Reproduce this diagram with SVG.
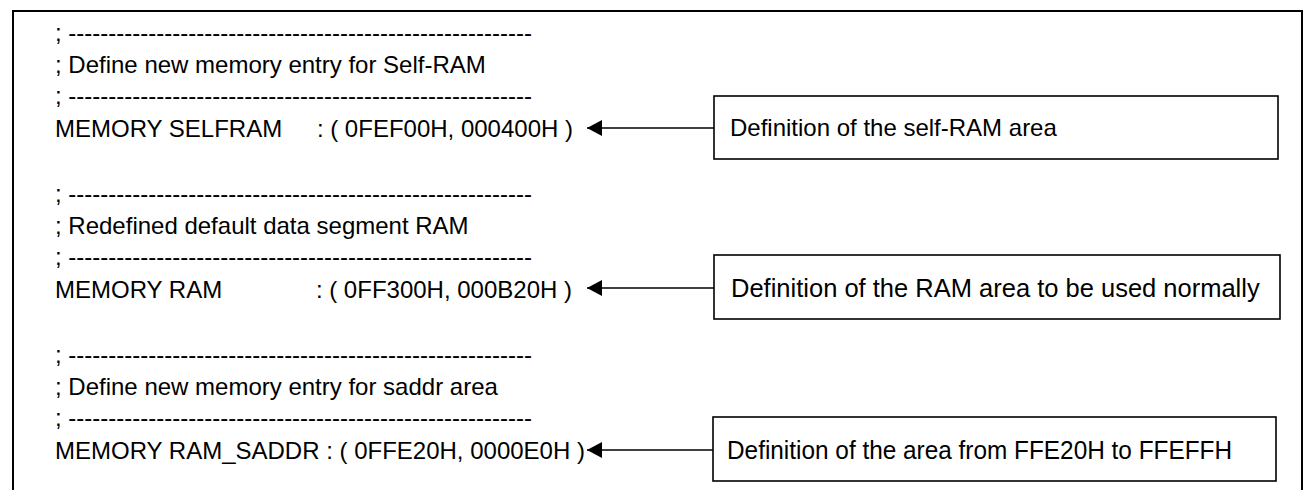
<svg xmlns="http://www.w3.org/2000/svg" width="1305" height="490" viewBox="0 0 1305 490">
<style>
text{font-family:"Liberation Sans",Arial,sans-serif;font-size:24px;fill:#000}
.box{fill:#fff;stroke:#000;stroke-width:1.6}
.frame{fill:none;stroke:#000;stroke-width:2}
.con{stroke:#000;stroke-width:1.6;fill:none}
</style>
<defs>
<marker id="ah" viewBox="0 0 15 16" refX="15" refY="8" markerWidth="15" markerHeight="16" markerUnits="userSpaceOnUse" orient="auto-start-reverse">
<path d="M0,0 L15,8 L0,16 Z" fill="#000"/>
</marker>
</defs>
<rect width="1305" height="490" fill="#fff"/>
<path class="frame" d="M13,490 V11 H1302 V490"/>
<g id="code">
<text x="55" y="41">; ----------------------------------------------------------</text>
<text x="55" y="73">; Define new memory entry for Self-RAM</text>
<text x="55" y="104">; ----------------------------------------------------------</text>
<text x="55" y="137">MEMORY SELFRAM</text>
<text x="573" y="137" text-anchor="end">: ( 0FEF00H, 000400H )</text>
<text x="55" y="202">; ----------------------------------------------------------</text>
<text x="55" y="234">; Redefined default data segment RAM</text>
<text x="55" y="265">; ----------------------------------------------------------</text>
<text x="55" y="298">MEMORY RAM</text>
<text x="572" y="298" text-anchor="end">: ( 0FF300H, 000B20H )</text>
<text x="55" y="363">; ----------------------------------------------------------</text>
<text x="55" y="395">; Define new memory entry for saddr area</text>
<text x="55" y="426">; ----------------------------------------------------------</text>
<text x="55" y="459">MEMORY RAM_SADDR : ( 0FFE20H, 0000E0H )</text>
</g>
<g id="connectors">
<line class="con" x1="714" y1="128" x2="587" y2="128" marker-end="url(#ah)"/>
<line class="con" x1="714" y1="288" x2="587" y2="288" marker-end="url(#ah)"/>
<line class="con" x1="713" y1="450" x2="587" y2="450" marker-end="url(#ah)"/>
</g>
<g id="note1">
<rect class="box" x="714" y="96" width="564" height="63"/>
<text x="730" y="136">Definition of the self-RAM area</text>
</g>
<g id="note2">
<rect class="box" x="714" y="255" width="566" height="64"/>
<text x="731" y="297" style="font-size:25.5px">Definition of the RAM area to be used normally</text>
</g>
<g id="note3">
<rect class="box" x="713" y="417" width="563" height="64"/>
<text x="727" y="459" style="font-size:25.5px" textLength="505" lengthAdjust="spacingAndGlyphs">Definition of the area from FFE20H to FFEFFH</text>
</g>
</svg>
